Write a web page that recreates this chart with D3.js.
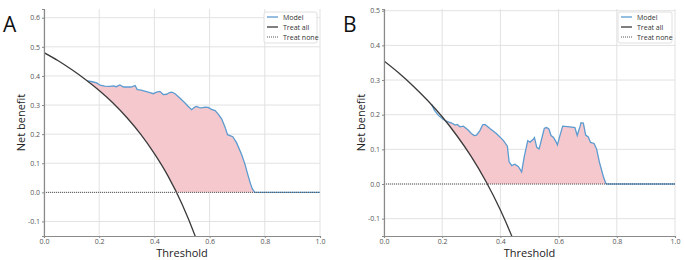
<!DOCTYPE html>
<html>
<head>
<meta charset="utf-8">
<script src="https://cdn.jsdelivr.net/npm/d3@7"></script>
<style>
  body { margin: 0; background: #fff; }
  svg { display: block; font-family: "Open Sans", "DejaVu Sans", sans-serif; }
</style>
</head>
<body>
<script>
// thresholds on the x axis
var xTicks = [0, 0.2, 0.4, 0.6, 0.8, 1.0];
var legendLabels = ["Model", "Treat all", "Treat none"];

// panel A: treat all curve
var treatAllA_t = [0, 0.05, 0.10, 0.15, 0.20, 0.25, 0.30, 0.35, 0.40, 0.45, 0.50, 0.55, 0.58];
var treatAllA_v = [0.480, 0.453, 0.422, 0.388, 0.350, 0.307, 0.257, 0.200, 0.133, 0.055, -0.040, -0.156, -0.238];
// panel A: model curve
var modelA_t = [0.157, 0.175, 0.191, 0.203, 0.220, 0.239, 0.251, 0.262, 0.275, 0.288, 0.300, 0.315, 0.330, 0.338,
  0.348, 0.365, 0.384, 0.396, 0.408, 0.420, 0.432, 0.444, 0.455, 0.463, 0.475, 0.493, 0.511, 0.522, 0.535, 0.545,
  0.553, 0.563, 0.571, 0.583, 0.595, 0.607, 0.620, 0.632, 0.644, 0.656, 0.665, 0.674, 0.684, 0.698, 0.716, 0.728,
  0.740, 0.748, 0.755, 0.764, 0.80, 0.90, 1.0];
var modelA_v = [0.383, 0.380, 0.376, 0.368, 0.365, 0.364, 0.366, 0.363, 0.369, 0.362, 0.362, 0.362, 0.367, 0.353,
  0.352, 0.348, 0.343, 0.339, 0.344, 0.347, 0.336, 0.337, 0.343, 0.344, 0.339, 0.323, 0.307, 0.296, 0.284, 0.292,
  0.295, 0.291, 0.290, 0.293, 0.292, 0.285, 0.281, 0.268, 0.252, 0.224, 0.198, 0.195, 0.191, 0.170, 0.130, 0.097,
  0.056, 0.030, 0.012, 0.0, 0.0, 0.0, 0.0];
var yTicksA = [-0.1, 0, 0.1, 0.2, 0.3, 0.4, 0.5, 0.6];

// panel B: treat all curve
var treatAllB_t = [0, 0.05, 0.10, 0.15, 0.20, 0.25, 0.30, 0.35, 0.40, 0.45, 0.48];
var treatAllB_v = [0.355, 0.321, 0.283, 0.241, 0.194, 0.140, 0.079, 0.008, -0.075, -0.173, -0.240];
// panel B: model curve
var modelB_t = [0.164, 0.173, 0.187, 0.204, 0.221, 0.233, 0.244, 0.252, 0.261, 0.273, 0.290, 0.300, 0.310, 0.318,
  0.330, 0.339, 0.347, 0.364, 0.387, 0.410, 0.424, 0.430, 0.439, 0.450, 0.462, 0.473, 0.482, 0.494, 0.502, 0.513,
  0.517, 0.525, 0.533, 0.542, 0.551, 0.559, 0.567, 0.574, 0.582, 0.590, 0.596, 0.605, 0.614, 0.639, 0.656, 0.664,
  0.674, 0.677, 0.685, 0.693, 0.702, 0.710, 0.722, 0.731, 0.740, 0.754, 0.762, 0.766, 0.80, 0.90, 1.0];
var modelB_v = [0.229, 0.213, 0.198, 0.186, 0.179, 0.176, 0.170, 0.172, 0.165, 0.167, 0.155, 0.146, 0.140, 0.141,
  0.155, 0.171, 0.172, 0.160, 0.145, 0.126, 0.109, 0.064, 0.053, 0.057, 0.050, 0.035, 0.079, 0.125, 0.121, 0.129,
  0.134, 0.106, 0.101, 0.131, 0.161, 0.163, 0.158, 0.140, 0.135, 0.124, 0.113, 0.141, 0.167, 0.165, 0.163, 0.140,
  0.167, 0.177, 0.176, 0.141, 0.136, 0.120, 0.117, 0.100, 0.064, 0.021, 0.002, 0.0, 0.0, 0.0, 0.0];
var yTicksB = [-0.1, 0, 0.1, 0.2, 0.3, 0.4, 0.5];

var svg = d3.select("body").append("svg")
    .attr("width", 685)
    .attr("height", 260);

var fmt = function(d) { return d3.format(".1f")(d).replace("\u2212", "-"); };

function zip(t, v) {
    return t.map(function(d, i) { return {t: d, v: v[i]}; });
}

function drawPanel(opts) {
    var width = opts.width, height = 227;
    var g = svg.append("g")
        .attr("transform", "translate(" + opts.left + "," + 9 + ")");

    var x = d3.scaleLinear().domain([0, 1]).range([0, width]);
    var y = d3.scaleLinear().domain([-0.15, opts.ymax]).range([height, 0]);

    var model = zip(opts.modelT, opts.modelV);
    var treatAll = zip(opts.allT, opts.allV);

    //clip to the plot area
    var clipId = "clip-" + opts.id;
    svg.append("clipPath").attr("id", clipId)
        .append("rect").attr("width", width).attr("height", height);

    //clip for the shaded area: above the treat all curve
    var fillClip = "fill-" + opts.id;
    var fc = svg.append("clipPath").attr("id", fillClip);
    fc.append("path")
        .attr("d", d3.area()
            .x(function(d) { return x(d.t); })
            .y0(-50)
            .y1(function(d) { return y(d.v); })
            .curve(d3.curveMonotoneX)(treatAll));
    fc.append("rect")
        .attr("x", x(opts.allT[opts.allT.length - 1]) - 1)
        .attr("y", -50)
        .attr("width", width)
        .attr("height", height + 100);

    //grid
    g.append("g").selectAll("line").data(opts.yTicks).join("line")
        .attr("x1", 0).attr("x2", width)
        .attr("y1", function(d) { return y(d); }).attr("y2", function(d) { return y(d); })
        .attr("stroke", "#e2e2e2").attr("stroke-width", 1);
    g.append("g").selectAll("line").data(xTicks).join("line")
        .attr("x1", function(d) { return x(d); }).attr("x2", function(d) { return x(d); })
        .attr("y1", 0).attr("y2", height)
        .attr("stroke", "#e2e2e2").attr("stroke-width", 1);

    var plot = g.append("g").attr("clip-path", "url(#" + clipId + ")");

    //shaded net benefit area
    plot.append("g").attr("clip-path", "url(#" + fillClip + ")")
        .append("path")
        .attr("d", d3.area()
            .x(function(d) { return x(d.t); })
            .y0(y(0))
            .y1(function(d) { return y(d.v); })(model))
        .attr("fill", "#f5c8ce");

    //model line
    plot.append("path")
        .attr("d", d3.line()
            .x(function(d) { return x(d.t); })
            .y(function(d) { return y(d.v); })(model))
        .attr("fill", "none")
        .attr("stroke", "#5b9bd0")
        .attr("stroke-width", 1.3);

    //treat all
    plot.append("path")
        .attr("d", d3.line()
            .x(function(d) { return x(d.t); })
            .y(function(d) { return y(d.v); })
            .curve(d3.curveMonotoneX)(treatAll))
        .attr("fill", "none")
        .attr("stroke", "#3a3a3a")
        .attr("stroke-width", 1.3);

    //treat none
    plot.append("line")
        .attr("x1", x(0)).attr("x2", x(1))
        .attr("y1", y(0)).attr("y2", y(0))
        .attr("stroke", "#555")
        .attr("stroke-width", 1)
        .attr("stroke-dasharray", "1,1");

    //axes
    var xAxis = g.append("g")
        .attr("transform", "translate(0," + height + ")")
        .call(d3.axisBottom(x).tickValues(xTicks).tickFormat(fmt).tickSize(2).tickPadding(1));
    var yAxis = g.append("g")
        .call(d3.axisLeft(y).tickValues(opts.yTicks).tickFormat(fmt).tickSize(2).tickPadding(2));
    [xAxis, yAxis].forEach(function(a) {
        a.select(".domain").attr("stroke", "#8a8a8a").attr("stroke-width", 1.2);
        a.selectAll(".tick line").attr("stroke", "#8a8a8a");
        a.selectAll("text").attr("font-size", 7).attr("fill", "#555")
            .attr("font-family", "'Open Sans', sans-serif");
    });

    //axis labels
    g.append("text")
        .attr("x", width / 2).attr("y", height + 21)
        .attr("text-anchor", "middle")
        .attr("font-size", 11).attr("fill", "#222")
        .text("Threshold");
    g.append("text")
        .attr("transform", "translate(-19," + (height / 2) + ") rotate(-90)")
        .attr("text-anchor", "middle")
        .attr("font-size", 11).attr("fill", "#222")
        .text("Net benefit");

    //panel letter
    svg.append("text")
        .attr("x", opts.left - 41).attr("y", 32)
        .attr("font-size", 21).attr("fill", "#111")
        .attr("font-family", "'Open Sans', sans-serif")
        .text(opts.letter);

    //legend
    var lg = g.append("g").attr("transform", "translate(" + (width - opts.legendW - 3) + ",3)");
    lg.append("rect")
        .attr("width", opts.legendW).attr("height", 31)
        .attr("rx", 2)
        .attr("fill", "#fff").attr("fill-opacity", 0.9)
        .attr("stroke", "#e0e0e0");
    var styles = [
        {stroke: "#5b9bd0", dash: null, w: 1.3},
        {stroke: "#3a3a3a", dash: null, w: 1.3},
        {stroke: "#555", dash: "1,1", w: 1}
    ];
    legendLabels.forEach(function(lab, i) {
        var ly = 5 + i * 10;
        lg.append("line")
            .attr("x1", 3).attr("x2", 14)
            .attr("y1", ly).attr("y2", ly)
            .attr("stroke", styles[i].stroke)
            .attr("stroke-width", styles[i].w)
            .attr("stroke-dasharray", styles[i].dash);
        lg.append("text")
            .attr("x", 19).attr("y", ly + 2.5)
            .attr("font-size", 7).attr("fill", "#333")
            .text(lab);
    });
}

drawPanel({id: "a", letter: "A", left: 44, width: 276, ymax: 0.63,
    yTicks: yTicksA, modelT: modelA_t, modelV: modelA_v,
    allT: treatAllA_t, allV: treatAllA_v, legendW: 53});
drawPanel({id: "b", letter: "B", left: 384, width: 291, ymax: 0.505,
    yTicks: yTicksB, modelT: modelB_t, modelV: modelB_v,
    allT: treatAllB_t, allV: treatAllB_v, legendW: 54});
</script>
</body>
</html>
